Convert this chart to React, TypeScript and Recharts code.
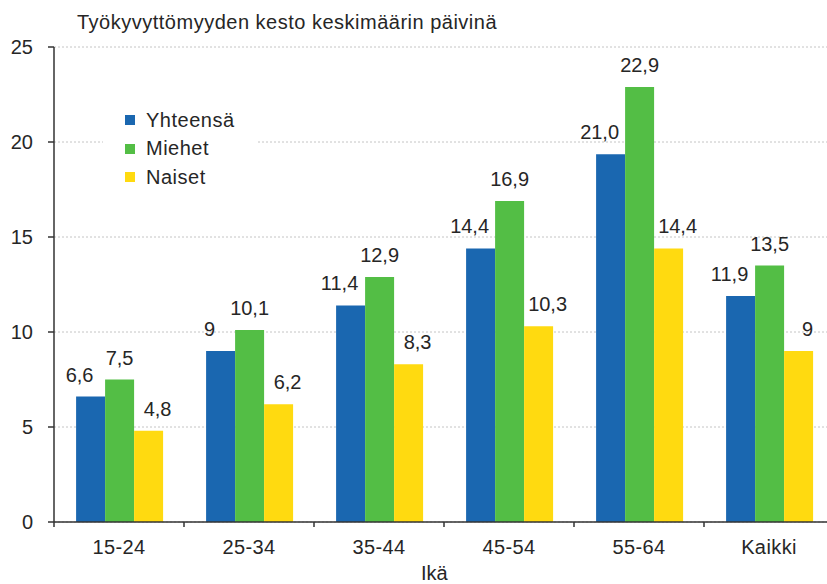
import { BarChart, Bar, XAxis, YAxis, CartesianGrid, Legend, LabelList } from "recharts";

const ageGroups = ["15-24", "25-34", "35-44", "45-54", "55-64", "Kaikki"];
const seriesNames = ["Yhteensä", "Miehet", "Naiset"];
const yhteensa = [6.6, 9, 11.4, 14.4, 19.35, 11.9];
const miehet = [7.5, 10.1, 12.9, 16.9, 22.9, 13.5];
const naiset = [4.8, 6.2, 8.3, 10.3, 14.4, 9];
const yhteensaLabels = ["6,6", "9", "11,4", "14,4", "21,0", "11,9"];
const miehetLabels = ["7,5", "10,1", "12,9", "16,9", "22,9", "13,5"];
const naisetLabels = ["4,8", "6,2", "8,3", "10,3", "14,4", "9"];
const yTicks = [0, 5, 10, 15, 20, 25];

const data = ageGroups.map((ika, i) => ({
  ika,
  yhteensa: yhteensa[i],
  miehet: miehet[i],
  naiset: naiset[i],
  yLabel: yhteensaLabels[i],
  mLabel: miehetLabels[i],
  nLabel: naisetLabels[i],
}));

const FONT = "'Liberation Sans', Arial, sans-serif";
const TEXT = "#262626";
const AXIS = "#333";

const makeLabel = (dx: number) => (props: any) => {
  const { x, y, width, value } = props;
  return (
    <text x={x + width / 2 + dx} y={y - 15} textAnchor="middle" fill={TEXT} fontSize={20} fontFamily={FONT}>
      {value}
    </text>
  );
};

const XTick = (props: any) => {
  const { x, y, payload } = props;
  const half = payload.offset ?? 65;
  return (
    <g>
      <line x1={x - half} y1={y} x2={x - half} y2={y + 5} stroke={AXIS} strokeWidth={1.5} />
      <text x={x} y={y + 32} textAnchor="middle" fill={TEXT} fontSize={20} fontFamily={FONT} letterSpacing={0.4}>
        {payload.value}
      </text>
    </g>
  );
};

// keep legend in series order (recharts sorts it by name otherwise)
const renderLegend = (props: any) => {
  const items = [...props.payload].sort(
    (a: any, b: any) => seriesNames.indexOf(a.value) - seriesNames.indexOf(b.value)
  );
  return (
    <div style={{ paddingTop: 3 }}>
      {items.map((item: any) => (
        <div key={item.value} style={{ display: "flex", alignItems: "center", height: 28.5, paddingLeft: 22 }}>
          <span style={{ width: 10, height: 10, background: item.color, marginRight: 11 }} />
          <span style={{ fontSize: 20, fontFamily: FONT, color: TEXT, letterSpacing: 0.5 }}>{item.value}</span>
        </div>
      ))}
    </div>
  );
};

export default function App() {
  return (
    <div style={{ position: "absolute", left: 0, top: 0, width: 827, height: 584, overflow: "hidden", background: "#fff" }}>
      <div style={{ position: "absolute", left: 77, top: 12, fontSize: 20, lineHeight: "20px", fontFamily: FONT, color: TEXT, whiteSpace: "pre", letterSpacing: 0.5 }}>
        Työkyvyttömyyden kesto keskimäärin päivinä
      </div>
      <BarChart
        width={834}
        height={584}
        data={data}
        margin={{ top: 47, right: 0, left: 0, bottom: 22 }}
        barCategoryGap="17%"
        barGap={0}
      >
        <CartesianGrid vertical={false} stroke="#c4c4c4" strokeDasharray="2 2" />
        <XAxis
          dataKey="ika"
          height={40}
          axisLine={{ stroke: AXIS, strokeWidth: 1.5 }}
          tickLine={false}
          tickSize={0}
          tickMargin={0}
          tick={<XTick />}
          interval={0}
        />
        <YAxis
          width={54}
          domain={[0, 25]}
          ticks={yTicks}
          axisLine={{ stroke: AXIS, strokeWidth: 1.5 }}
          tickLine={{ stroke: AXIS, strokeWidth: 1.5 }}
          tickSize={6}
          tickMargin={15}
          tick={{ fill: TEXT, fontSize: 20, fontFamily: FONT }}
        />
        <Legend
          layout="vertical"
          align="center"
          verticalAlign="middle"
          content={renderLegend}
          wrapperStyle={{ left: 103, top: 103, width: 153, height: 92, background: "#fff" }}
        />
        <Bar dataKey="yhteensa" name={seriesNames[0]} fill="#1a67b0" isAnimationActive={false}>
          <LabelList dataKey="yLabel" content={makeLabel(-11)} />
        </Bar>
        <Bar dataKey="miehet" name={seriesNames[1]} fill="#53be45" isAnimationActive={false}>
          <LabelList dataKey="mLabel" content={makeLabel(0)} />
        </Bar>
        <Bar dataKey="naiset" name={seriesNames[2]} fill="#ffda10" isAnimationActive={false}>
          <LabelList dataKey="nLabel" content={makeLabel(9)} />
        </Bar>
      </BarChart>
      <div style={{ position: "absolute", left: 421, top: 563, fontSize: 20, lineHeight: "20px", fontFamily: FONT, color: TEXT }}>
        Ikä
      </div>
    </div>
  );
}
